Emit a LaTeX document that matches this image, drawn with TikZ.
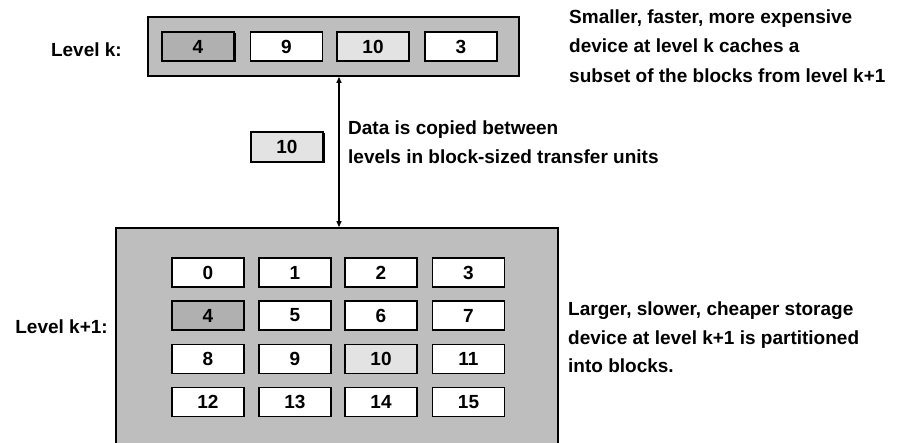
\documentclass[tikz,border=0pt]{standalone}
\usepackage{fontspec}
\setmainfont{Liberation Sans}
\usetikzlibrary{arrows.meta}
\definecolor{bgray}{RGB}{190,190,190}
\definecolor{dgray}{RGB}{176,176,176}
\definecolor{lgray}{RGB}{227,227,227}
\begin{document}
\begin{tikzpicture}[x=1pt,y=-1pt,
  font=\fontsize{19}{22}\selectfont\bfseries,
  level/.style={draw, line width=1.8pt, fill=bgray, inner sep=0},
  block/.style={draw, line width=1.5pt, fill=white, minimum width=72pt, minimum height=29pt, inner sep=0},
  shade/.style={block, fill=dgray},
  light/.style={block, fill=lgray},
  shadow/.style={fill=black},
  txt/.style={anchor=base west, inner sep=0},
  lbl/.style={anchor=base east, inner sep=0}]
\clip (0,0) rectangle (911,443);
% level k
\node[level, minimum width=371pt, minimum height=59pt] (lk) at (333.5,46.5) {};
\fill[shadow] (163.5,33.5) rectangle (235.5,62.5);
\node[shade] (k4) at (198,46.5) {4};
\node[block] (k9) at (286.5,46.5) {9};
\node[light] (k10) at (373,46.5) {10};
\node[block] (k3) at (461,46.5) {3};
% level k+1
\node[level, minimum width=442pt, minimum height=220pt] (lk1) at (337,338) {};
\foreach \r [count=\i from 0] in {272.5,315.5,359,402}{
  \foreach \c [count=\j from 0] in {208,295,381,468.5}{
    \pgfmathtruncatemacro{\n}{4*\i+\j}
    \ifnum\n=4
      \node[shade] (b\n) at (\c,\r) {\n};
    \else\ifnum\n=10
      \node[light] (b\n) at (\c,\r) {\n};
    \else
      \node[block] (b\n) at (\c,\r) {\n};
    \fi\fi
  }
}
% transfer block
\fill[shadow] (252.5,133.5) rectangle (324.5,163.5);
\node[light, minimum height=30pt] (m10) at (287,147) {10};
% arrow
\draw[{Triangle[length=6pt,width=5pt]}-{Triangle[length=6pt,width=5pt]}, line width=1.2pt]
  ([xshift=5.5pt]lk.south) -- ([xshift=5.5pt]lk.south |- lk1.north);
% labels
\node[lbl] (lvk) at (122,57) {Level k:};
\node[lbl] (lvk1) at (108,334) {Level k+1:};
\node[txt] (t1) at (569,23.5) {Smaller, faster, more expensive};
\node[txt] (t2) at (569,53) {device at level k caches a};
\node[txt] (t3) at (569,82.5) {subset of the blocks from level k+1};
\node[txt] (d1) at (348,135) {Data is copied between};
\node[txt] (d2) at (348,164) {levels in block-sized transfer units};
\node[txt] (s1) at (568,316) {Larger, slower, cheaper storage};
\node[txt] (s2) at (568,344.5) {device at level k+1 is partitioned};
\node[txt] (s3) at (568,373) {into blocks.};
\end{tikzpicture}
\end{document}
